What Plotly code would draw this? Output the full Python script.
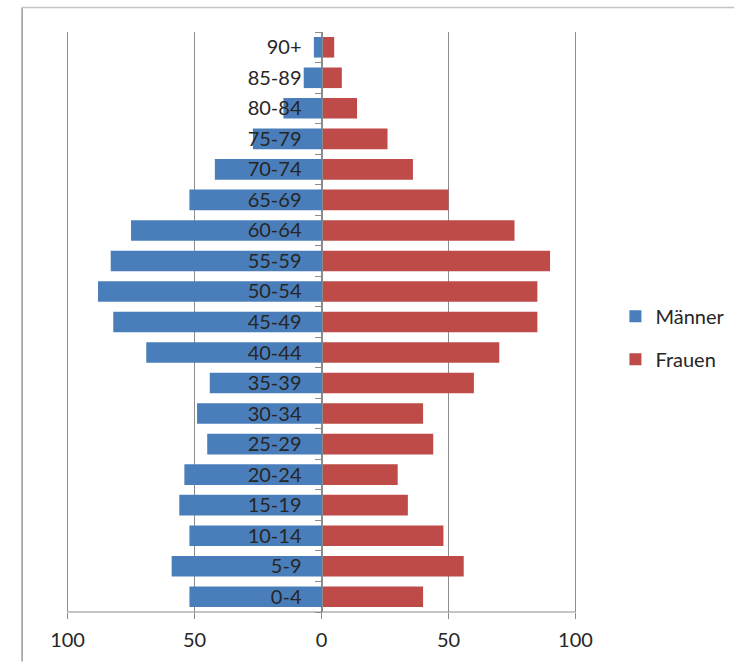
import plotly.graph_objects as go

categories = ["0-4", "5-9", "10-14", "15-19", "20-24", "25-29", "30-34", "35-39",
              "40-44", "45-49", "50-54", "55-59", "60-64", "65-69", "70-74",
              "75-79", "80-84", "85-89", "90+"]
maenner = [52, 59, 52, 56, 54, 45, 49, 44, 69, 82, 88, 83, 75, 52, 42, 27, 15, 7, 3]
frauen = [40, 56, 48, 34, 30, 44, 40, 60, 70, 85, 85, 90, 76, 50, 36, 26, 14, 8, 5]
x_tickvals = [-100, -50, 0, 50, 100]
x_ticktext = ["100", "50", "0", "50", "100"]

FONT = "Lato"
TXT = "#262626"
GRID = "#8c8c8c"

fig = go.Figure()
fig.add_trace(go.Bar(
    y=categories, x=[-v for v in maenner], orientation="h", name="Männer",
    marker=dict(color="#4a7ebb", line=dict(width=0)), legendgroup="m",
    hoverinfo="skip"))
fig.add_trace(go.Bar(
    y=categories, x=frauen, orientation="h", name="Frauen",
    marker=dict(color="#be4b48", line=dict(width=0)), legendgroup="f",
    hoverinfo="skip"))

L, R, T, B = 64.5, 156.5, 32, 49.5
W, H = 735, 662
pw, ph = W - L - R, H - T - B

def px_x(p):
    return (p - L) / pw

def px_y(p):
    return (H - B - p) / ph

fig.update_layout(
    width=W, height=H,
    margin=dict(l=L, r=R, t=T, b=B, autoexpand=False),
    paper_bgcolor="white", plot_bgcolor="white",
    barmode="relative", bargap=0.326,
    font=dict(family=FONT, size=20, color=TXT),
    xaxis=dict(range=[-101, 101], tickvals=x_tickvals, ticktext=x_ticktext,
               showgrid=True, gridcolor=GRID, gridwidth=1, zeroline=False,
               showline=False,
               ticks="outside", ticklen=6, tickcolor=GRID, ticklabelstandoff=4,
               tickfont=dict(family=FONT, size=20, color=TXT), fixedrange=True),
    yaxis=dict(type="category", categoryorder="array", categoryarray=categories,
               anchor="free", position=0.5, showgrid=False, zeroline=False,
               showline=True, linecolor=GRID, linewidth=1,
               ticks="outside", tickson="boundaries", ticklen=7, tickcolor=GRID,
               ticklabelstandoff=16,
               tickfont=dict(family=FONT, size=20, color=TXT), fixedrange=True),
    legend=dict(x=px_x(616), y=px_y(338), xanchor="left", yanchor="middle",
                tracegroupgap=14, bgcolor="rgba(0,0,0,0)",
                font=dict(family=FONT, size=20, color=TXT)),
    shapes=[
        dict(type="line", xref="paper", yref="paper",
             x0=px_x(21.5), x1=px_x(21.5), y0=px_y(H), y1=px_y(7.5),
             line=dict(color="#9a9a9a", width=1.5)),
        dict(type="line", xref="paper", yref="paper",
             x0=px_x(21.5), x1=px_x(W), y0=px_y(7.5), y1=px_y(7.5),
             line=dict(color="#c4c4c4", width=1.5)),
        dict(type="line", xref="x", yref="paper",
             x0=x_tickvals[0], x1=x_tickvals[-1], y0=0, y1=0,
             line=dict(color=GRID, width=1)),
    ],
)

fig.write_html(
    "out.html",
    config={"displayModeBar": False},
    post_script="document.body.style.margin='0px';document.body.style.overflow='hidden';",
)
